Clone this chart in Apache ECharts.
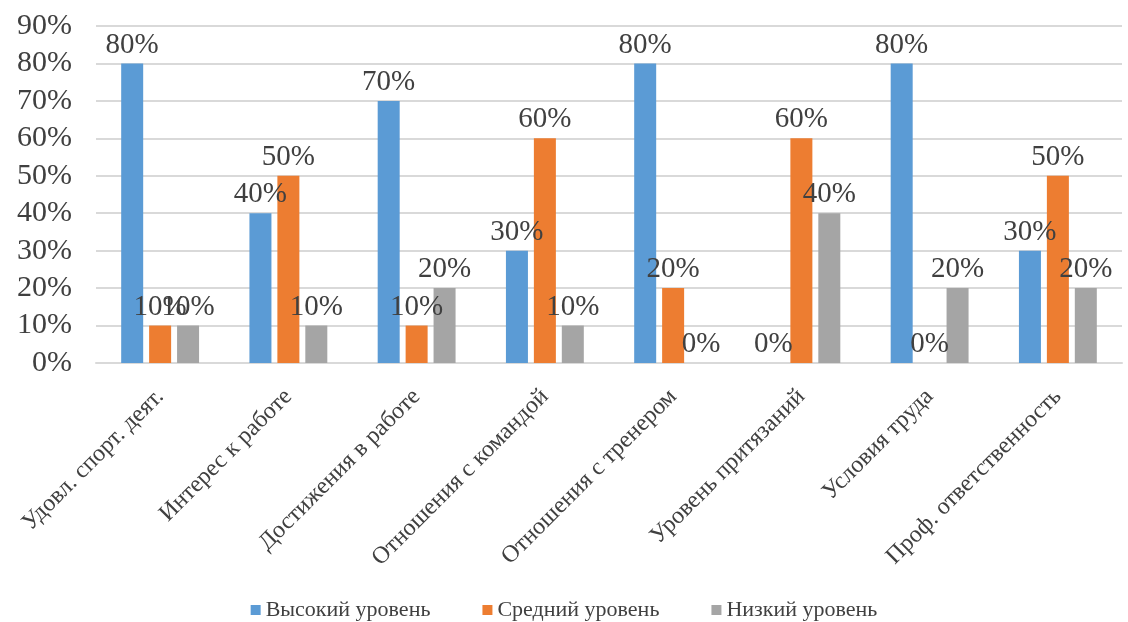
<!DOCTYPE html>
<html><head><meta charset="utf-8">
<script src="https://cdn.jsdelivr.net/npm/echarts@6/dist/echarts.min.js"></script>
<style>html,body{margin:0;padding:0;background:#fff}#c{width:1128px;height:622px}</style>
</head><body><div id="c"></div>
<script>
const categories = ['Удовл. спорт. деят.','Интерес к работе','Достижения в работе','Отношения с командой','Отношения с тренером','Уровень притязаний','Условия труда','Проф. ответственность'];
const seriesNames = ['Высокий уровень','Средний уровень','Низкий уровень'];
const high = [80,40,70,30,80,0,80,30];
const mid = [10,50,10,60,20,60,0,50];
const low = [10,10,20,10,0,40,20,20];
const colors = ['#5B9BD5','#ED7D31','#A5A5A5'];
const font = '"Liberation Serif","Times New Roman",serif';
const chart = echarts.init(document.getElementById('c'));
const mk = (name, data, color) => ({
  name, type:'bar', data, barWidth:22, barGap:'27%',
  itemStyle:{color},
  label:{show:true, position:'top', distance:4, formatter:'{c}%', fontFamily:font, fontSize:29, color:'#404040'}
});
chart.setOption({
  animation:false,
  textStyle:{fontFamily:font},
  grid:{left:96, right:6, top:26, bottom:259, containLabel:false},
  legend:{top:594, left:'center', itemWidth:10, itemHeight:10, itemGap:52, icon:'rect',
    textStyle:{fontFamily:font, fontSize:22, color:'#404040'}},
  xAxis:{type:'category', data:categories,
    axisLine:{lineStyle:{color:'#D9D9D9', width:2}}, axisTick:{show:false},
    axisLabel:{rotate:45, fontFamily:font, fontSize:24, color:'#404040', margin:30, interval:0}},
  yAxis:{type:'value', min:0, max:90, interval:10,
    axisLabel:{formatter:'{value}%', fontFamily:font, fontSize:30, color:'#404040', margin:24},
    splitLine:{lineStyle:{color:'#D9D9D9', width:2}}, axisLine:{show:false}, axisTick:{show:false}},
  series:[mk(seriesNames[0],high,colors[0]), mk(seriesNames[1],mid,colors[1]), mk(seriesNames[2],low,colors[2])]
});
</script></body></html>
